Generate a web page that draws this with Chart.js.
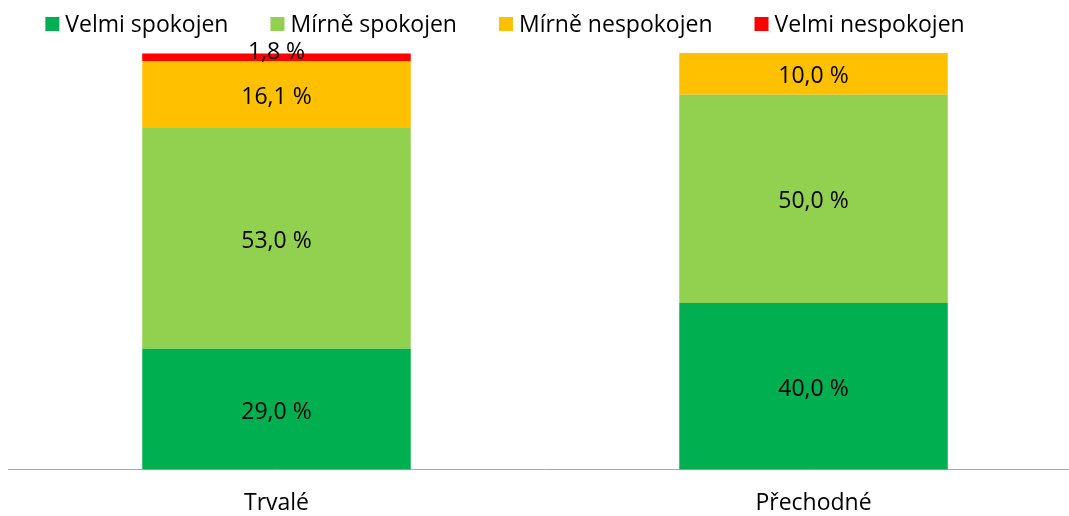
<!DOCTYPE html>
<html>
<head>
<meta charset="utf-8">
<script src="https://cdn.jsdelivr.net/npm/chart.js@4/dist/chart.umd.min.js"></script>
<style>
    html, body { margin: 0; padding: 0; background: #fff; overflow: hidden; }
    #wrap { position: relative; width: 1082px; height: 516px; }
</style>
</head>
<body>
<div id="wrap"><canvas id="satisfactionChart"></canvas></div>
<script>
// data
const categories = ['Trvalé', 'Přechodné'];
const seriesNames = ['Velmi spokojen', 'Mírně spokojen', 'Mírně nespokojen', 'Velmi nespokojen'];
const velmiSpokojen = [29.0, 40.0];
const mirneSpokojen = [53.0, 50.0];
const mirneNespokojen = [16.1, 10.0];
const velmiNespokojen = [1.8, 0];
const seriesColors = ['#00B050', '#92D050', '#FFC000', '#FF0000'];

const FONT = "'Open Sans', 'Noto Sans', sans-serif";
const FONT_SIZE = 23;

// legend in one row above the plot, centred a bit left of the middle like the original
const topLegend = {
    id: 'topLegend',
    afterDraw(chart) {
        const ctx = chart.ctx;
        const box = 14, gap = 6, spacing = 42;
        ctx.save();
        ctx.font = FONT_SIZE + 'px ' + FONT;
        ctx.textBaseline = 'alphabetic';
        ctx.textAlign = 'left';
        const items = chart.data.datasets.map(ds => ({
            text: ds.label, color: ds.backgroundColor, w: ctx.measureText(ds.label).width
        }));
        const total = items.reduce((s, it) => s + box + gap + it.w, 0) + spacing * (items.length - 1);
        let x = 505 - total / 2;
        const baseline = 32;
        items.forEach(it => {
            ctx.fillStyle = it.color;
            ctx.fillRect(x, baseline - 15, box, box);
            ctx.fillStyle = '#000';
            ctx.fillText(it.text, x + box + gap, baseline);
            x += box + gap + it.w + spacing;
        });
        ctx.restore();
    }
};

// value labels in the middle of each segment
const segmentLabels = {
    id: 'segmentLabels',
    afterDatasetsDraw(chart) {
        const ctx = chart.ctx;
        ctx.save();
        ctx.font = FONT_SIZE + 'px ' + FONT;
        ctx.fillStyle = '#000';
        ctx.textAlign = 'center';
        ctx.textBaseline = 'alphabetic';
        chart.data.datasets.forEach((ds, i) => {
            const meta = chart.getDatasetMeta(i);
            meta.data.forEach((bar, j) => {
                const v = ds.data[j];
                if (!v) return;
                const h = bar.base - bar.y;
                let y = bar.y + h / 2 + 9.5;
                if (h < 20) y = bar.y + 6; // thin segment: label sits over its top edge
                ctx.fillText(v.toFixed(1).replace('.', ',') + ' %', bar.x, y);
            });
        });
        ctx.restore();
    }
};

const seriesData = [velmiSpokojen, mirneSpokojen, mirneNespokojen, velmiNespokojen];

new Chart(document.getElementById('satisfactionChart'), {
    type: 'bar',
    data: {
        labels: categories,
        datasets: seriesNames.map((name, i) => ({
            label: name,
            data: seriesData[i],
            backgroundColor: seriesColors[i],
            borderWidth: 0,
            categoryPercentage: 0.5,
            barPercentage: 1.0,
        }))
    },
    options: {
        responsive: true,
        maintainAspectRatio: false,
        animation: false,
        layout: { padding: { left: 8, right: 0, top: 53, bottom: 0 } },
        plugins: {
            legend: { display: false },
            tooltip: { enabled: false }
        },
        scales: {
            x: {
                stacked: true,
                grid: { display: false, drawTicks: false },
                border: { display: true, color: '#A6A6A6', width: 1 },
                ticks: {
                    padding: 20,
                    color: '#000',
                    font: { family: FONT, size: FONT_SIZE }
                },
                // the axis counts the padding twice, keep it at the original height
                afterFit(scale) { scale.height = 46.5; }
            },
            y: {
                stacked: true,
                display: false,
                min: 0,
                max: 100
            }
        }
    },
    plugins: [topLegend, segmentLabels]
});
</script>
</body>
</html>
